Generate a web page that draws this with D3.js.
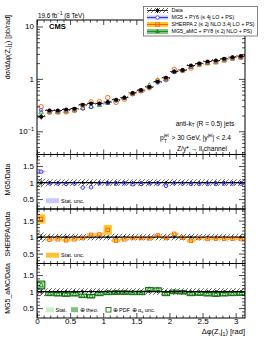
<!DOCTYPE html>
<html>
<head>
<meta charset="utf-8">
<script src="https://cdn.jsdelivr.net/npm/d3@7"></script>
<style>
  body { margin: 0; background: #fff; }
  svg { display: block; font-family: "Liberation Sans", Arial, sans-serif; }
  .tick line { stroke: #000; stroke-width: 0.7; }
</style>
</head>
<body>
<svg width="266" height="344"></svg>
<script>
// ---- values ----
var nBins = 25;
var dataXsec   = [0.19, 0.25, 0.25, 0.26, 0.27, 0.32, 0.34, 0.34, 0.36, 0.40, 0.44, 0.54, 0.61,
                  0.70, 0.88, 1.05, 1.38, 1.47, 1.80, 1.97, 2.15, 2.25, 2.42, 2.60, 2.72];
var dataStat   = [0.06, 0.03, 0.03, 0.03, 0.03, 0.03, 0.03, 0.03, 0.03, 0.03, 0.03, 0.03, 0.03,
                  0.03, 0.03, 0.03, 0.03, 0.03, 0.03, 0.03, 0.03, 0.03, 0.03, 0.03, 0.03];
var dataSyst   = [0.14, 0.10, 0.10, 0.10, 0.10, 0.10, 0.10, 0.10, 0.10, 0.10, 0.10, 0.10, 0.10,
                  0.10, 0.10, 0.10, 0.10, 0.10, 0.10, 0.10, 0.10, 0.10, 0.10, 0.10, 0.10];
var mg5Ratio   = [1.33, 0.98, 0.97, 0.96, 0.97, 0.85, 0.86, 0.98, 0.97, 0.97, 0.98, 0.95, 0.96,
                  0.98, 0.97, 0.90, 0.98, 0.97, 0.96, 0.96, 0.96, 0.96, 0.97, 0.97, 0.97];
var mg5Stat    = [0.03, 0.01, 0.01, 0.01, 0.01, 0.01, 0.01, 0.01, 0.01, 0.01, 0.01, 0.01, 0.01,
                  0.01, 0.01, 0.01, 0.01, 0.01, 0.01, 0.01, 0.01, 0.01, 0.01, 0.01, 0.01];
var sherpaRatio = [1.55, 0.92, 0.93, 0.90, 0.93, 0.97, 1.07, 1.08, 1.22, 0.89, 0.93, 0.97, 0.97,
                   0.96, 1.05, 0.97, 1.10, 0.98, 0.89, 0.97, 0.94, 0.95, 0.95, 0.95, 0.94];
var sherpaStat  = [0.14, 0.03, 0.03, 0.04, 0.03, 0.03, 0.04, 0.04, 0.15, 0.05, 0.03, 0.03, 0.03,
                   0.03, 0.03, 0.03, 0.03, 0.03, 0.05, 0.03, 0.03, 0.03, 0.03, 0.03, 0.03];
var amcRatio   = [1.20, 0.93, 0.92, 0.91, 0.92, 0.87, 0.86, 0.93, 0.96, 0.97, 0.97, 0.96, 0.96,
                  1.07, 1.06, 0.93, 0.99, 0.98, 0.93, 0.94, 0.92, 0.91, 0.92, 0.93, 0.94];
var amcStat    = [0.05, 0.02, 0.02, 0.02, 0.02, 0.02, 0.02, 0.02, 0.02, 0.02, 0.02, 0.02, 0.02,
                  0.02, 0.02, 0.02, 0.02, 0.02, 0.02, 0.02, 0.02, 0.02, 0.02, 0.02, 0.02];
var amcTheo    = [0.11, 0.05, 0.05, 0.05, 0.05, 0.05, 0.05, 0.05, 0.05, 0.05, 0.05, 0.05, 0.05,
                  0.05, 0.05, 0.05, 0.05, 0.05, 0.05, 0.05, 0.05, 0.05, 0.05, 0.05, 0.05];
var amcPdf     = [0.12, 0.055, 0.055, 0.055, 0.055, 0.055, 0.055, 0.055, 0.055, 0.055, 0.055, 0.055, 0.055,
                  0.055, 0.055, 0.055, 0.055, 0.055, 0.055, 0.055, 0.055, 0.055, 0.055, 0.055, 0.055];

var xTicks = [0, 0.5, 1, 1.5, 2, 2.5, 3];
var xTickLabels = ["0", "0.5", "1", "1.5", "2", "2.5", "3"];
var ratioTicks = [0.5, 1, 1.5];
var ratioTickLabels = ["0.5", "1", "1.5"];
var ratioTitles = ["MG5/Data", "SHERPA/Data", "MG5_aMC/Data"];
var legendLabels = ["Data", "MG5 + PY6 (\u2264 4j LO + PS)", "SHERPA 2 (\u2264 2j NLO 3,4j LO + PS)",
                    "MG5_aMC + PY8 (\u2264 2j NLO + PS)"];

// ---- layout ----
var left = 37, right = 245,
    mainTop = 20, mainBot = 154.5,
    ratioH = 54.5,
    ratioTops = [154.5, 209, 263.5];

var cBlue = "#3030ff", cBlueBand = "#c8c8ff",
    cOrange = "#ff5a00", cOrangeBand = "#ffc435",
    cGreen = "#1e8c1e", cGreenDark = "#006400", cGreenStat = "#c6f2c6", cGreenTheo = "#7cc47c";

var svg = d3.select("svg");
var defs = svg.append("defs");

defs.append("pattern")
    .attr("id", "hatch")
    .attr("patternUnits", "userSpaceOnUse")
    .attr("width", 4).attr("height", 4)
  .append("path")
    .attr("d", "M-1,1 l2,-2 M0,4 l4,-4 M3,5 l2,-2")
    .attr("stroke", "#000").attr("stroke-width", 0.6);

var x = d3.scaleLinear().domain([0, Math.PI]).range([left, right]);
var binW = Math.PI / nBins;
var bins = d3.range(nBins).map(function(i) { return {lo: i * binW, hi: (i + 1) * binW, c: (i + 0.5) * binW, i: i}; });

var yMain = d3.scaleLog().domain([0.036, 13.3]).range([mainBot, mainTop]);

function clip(id, y0, y1) {
  defs.append("clipPath").attr("id", id)
    .append("rect").attr("x", left).attr("y", y0).attr("width", right - left).attr("height", y1 - y0);
  return "url(#" + id + ")";
}

function xAxes(g, y0, y1, labels) {
  var minor = d3.range(0, 3.15, 0.1).filter(function(v) { return Math.abs(v * 2 - Math.round(v * 2)) > 1e-6; });
  g.append("g").attr("transform", "translate(0," + y1 + ")")
    .call(d3.axisBottom(x).tickValues(xTicks).tickSize(-5).tickPadding(0)
      .tickFormat(function(d, i) { return labels ? xTickLabels[i] : ""; }))
    .call(function(a) { a.select(".domain").remove(); a.selectAll("text").attr("font-size", 8).attr("dy", "0.72em"); });
  g.append("g").attr("transform", "translate(0," + y1 + ")")
    .call(d3.axisBottom(x).tickValues(minor).tickSize(-2.5).tickFormat(""))
    .call(function(a) { a.select(".domain").remove(); });
  g.append("g").attr("transform", "translate(0," + y0 + ")")
    .call(d3.axisTop(x).tickValues(xTicks).tickSize(-5).tickFormat(""))
    .call(function(a) { a.select(".domain").remove(); });
  g.append("g").attr("transform", "translate(0," + y0 + ")")
    .call(d3.axisTop(x).tickValues(minor).tickSize(-2.5).tickFormat(""))
    .call(function(a) { a.select(".domain").remove(); });
}

// ================= main panel =================
var gMain = svg.append("g");
var mainClip = clip("cmain", mainTop, mainBot);
var gMarks = gMain.append("g").attr("clip-path", mainClip);

// data syst hatch
gMarks.selectAll(".dsys").data(bins).enter().append("rect")
  .attr("x", function(d) { return x(d.lo); })
  .attr("width", function(d) { return x(d.hi) - x(d.lo); })
  .attr("y", function(d) { return yMain(dataXsec[d.i] * (1 + dataSyst[d.i] * 0.6)); })
  .attr("height", function(d) { return yMain(dataXsec[d.i] * (1 - dataSyst[d.i] * 0.6)) - yMain(dataXsec[d.i] * (1 + dataSyst[d.i] * 0.6)); })
  .attr("fill", "url(#hatch)");

// predictions (prediction = ratio x data)
gMarks.selectAll(".amcm").data(bins).enter().append("path")
  .attr("d", d3.symbol().type(d3.symbolTriangle).size(9))
  .attr("transform", function(d) { return "translate(" + x(d.c) + "," + yMain(dataXsec[d.i] * amcRatio[d.i]) + ")"; })
  .attr("fill", "none").attr("stroke", cGreen).attr("stroke-width", 0.8);
gMarks.selectAll(".mg5m").data(bins).enter().append("circle")
  .attr("cx", function(d) { return x(d.c); })
  .attr("cy", function(d) { return yMain(dataXsec[d.i] * mg5Ratio[d.i]); })
  .attr("r", 1.8).attr("fill", "none").attr("stroke", cBlue).attr("stroke-width", 0.8);
gMarks.selectAll(".shm").data(bins).enter().append("circle")
  .attr("cx", function(d) { return x(d.c); })
  .attr("cy", function(d) { return yMain(dataXsec[d.i] * sherpaRatio[d.i]); })
  .attr("r", 2.2).attr("fill", "none").attr("stroke", cOrange).attr("stroke-width", 0.9);

// data points
gMarks.selectAll(".dx").data(bins).enter().append("line")
  .attr("x1", function(d) { return x(d.lo); }).attr("x2", function(d) { return x(d.hi); })
  .attr("y1", function(d) { return yMain(dataXsec[d.i]); }).attr("y2", function(d) { return yMain(dataXsec[d.i]); })
  .attr("stroke", "#000").attr("stroke-width", 0.8);
gMarks.selectAll(".dy").data(bins).enter().append("line")
  .attr("x1", function(d) { return x(d.c); }).attr("x2", function(d) { return x(d.c); })
  .attr("y1", function(d) { return yMain(dataXsec[d.i] * (1 + dataStat[d.i] * 2)); })
  .attr("y2", function(d) { return yMain(dataXsec[d.i] * (1 - dataStat[d.i] * 2)); })
  .attr("stroke", "#000").attr("stroke-width", 0.8);
gMarks.selectAll(".dp").data(bins).enter().append("circle")
  .attr("cx", function(d) { return x(d.c); })
  .attr("cy", function(d) { return yMain(dataXsec[d.i]); })
  .attr("r", 2).attr("fill", "#000");

// main y axis (log)
var logMajor = [0.1, 1, 10];
var logMinor = [];
[0.01, 0.1, 1].forEach(function(p) { d3.range(2, 10).forEach(function(k) { var v = p * k; if (v > 0.036 && v < 13.3) logMinor.push(v); }); });

gMain.append("g").attr("transform", "translate(" + left + ",0)")
  .call(d3.axisLeft(yMain).tickValues(logMajor).tickSize(-6).tickPadding(3).tickFormat(""))
  .call(function(a) { a.select(".domain").remove(); });
gMain.append("g").attr("transform", "translate(" + left + ",0)")
  .call(d3.axisLeft(yMain).tickValues(logMinor).tickSize(-3).tickFormat(""))
  .call(function(a) { a.select(".domain").remove(); });
gMain.append("g").attr("transform", "translate(" + right + ",0)")
  .call(d3.axisRight(yMain).tickValues(logMajor).tickSize(-6).tickFormat(""))
  .call(function(a) { a.select(".domain").remove(); });
gMain.append("g").attr("transform", "translate(" + right + ",0)")
  .call(d3.axisRight(yMain).tickValues(logMinor).tickSize(-3).tickFormat(""))
  .call(function(a) { a.select(".domain").remove(); });

// log labels with superscripts
var logLab = gMain.append("g").attr("font-size", 8).attr("text-anchor", "end");
logLab.append("text").attr("x", left - 3).attr("y", yMain(10)).attr("dy", "0.35em").text("10");
logLab.append("text").attr("x", left - 3).attr("y", yMain(1)).attr("dy", "0.35em").text("1");
var tm1 = logLab.append("text").attr("x", left - 3).attr("y", yMain(0.1)).attr("dy", "0.35em");
tm1.append("tspan").text("10");
tm1.append("tspan").attr("dy", "-3.5").attr("font-size", 5.5).text("\u22121");

xAxes(gMain, mainTop, mainBot, false);

gMain.append("rect").attr("x", left).attr("y", mainTop).attr("width", right - left).attr("height", mainBot - mainTop)
  .attr("fill", "none").attr("stroke", "#000").attr("stroke-width", 1);

// y title
var yt = gMain.append("text").attr("transform", "translate(10,15) rotate(-90)")
  .attr("text-anchor", "end").attr("font-size", 7);
yt.append("tspan").text("d\u03c3/d\u0394\u03c6(Z,j");
yt.append("tspan").attr("dy", 1.5).attr("font-size", 5).text("1");
yt.append("tspan").attr("dy", -1.5).text(")  [pb/rad]");

// lumi + CMS
var lumi = svg.append("text").attr("x", 38).attr("y", 17.5).attr("font-size", 6.3);
lumi.append("tspan").text("19.6 fb");
lumi.append("tspan").attr("dy", -2.5).attr("font-size", 4.5).text("\u22121");
lumi.append("tspan").attr("dy", 2.5).text(" (8 TeV)");
svg.append("text").attr("x", 49).attr("y", 29).attr("font-size", 7.5).attr("font-weight", "bold").text("CMS");

// info text
var info = svg.append("g").attr("font-size", 6.6);
var t1 = info.append("text").attr("x", 205).attr("y", 125.5).attr("text-anchor", "middle");
t1.append("tspan").text("anti-k");
t1.append("tspan").attr("dy", 1.5).attr("font-size", 4.6).text("T");
t1.append("tspan").attr("dy", -1.5).text(" (R = 0.5) jets");
// second line: p_T^jet built from separate pieces so sub/superscripts stack
info.append("text").attr("x", 160).attr("y", 140).text("p");
info.append("text").attr("x", 164).attr("y", 136.5).attr("font-size", 4.6).text("jet");
info.append("text").attr("x", 164).attr("y", 142.5).attr("font-size", 4.6).text("T");
var t2 = info.append("text").attr("x", 171.5).attr("y", 140);
t2.append("tspan").text("> 30 GeV, |y");
t2.append("tspan").attr("dy", -3).attr("font-size", 4.6).text("jet");
t2.append("tspan").attr("dy", 3).text("| < 2.4");
info.append("text").attr("x", 202).attr("y", 150.5).attr("text-anchor", "middle").text("Z/\u03b3* \u2192 ll channel");

// legend
var lg = svg.append("g");
lg.append("rect").attr("x", 143.5).attr("y", 6.5).attr("width", 114).attr("height", 29.5)
  .attr("fill", "#fff").attr("stroke", "#666").attr("stroke-width", 0.8);
var rowY = [10.5, 17.5, 24.5, 31.5];
var sx0 = 147, sx1 = 168, sxc = 157.5;
// Data
lg.append("rect").attr("x", sx0).attr("y", rowY[0] - 2.5).attr("width", sx1 - sx0).attr("height", 5).attr("fill", "url(#hatch)");
lg.append("line").attr("x1", sx0).attr("x2", sx1).attr("y1", rowY[0]).attr("y2", rowY[0]).attr("stroke", "#000").attr("stroke-width", 0.8);
lg.append("line").attr("x1", sxc).attr("x2", sxc).attr("y1", rowY[0] - 2.5).attr("y2", rowY[0] + 2.5).attr("stroke", "#000").attr("stroke-width", 0.8);
lg.append("circle").attr("cx", sxc).attr("cy", rowY[0]).attr("r", 1.8).attr("fill", "#000");
// MG5
lg.append("rect").attr("x", sx0).attr("y", rowY[1] - 2).attr("width", sx1 - sx0).attr("height", 4).attr("fill", cBlueBand);
lg.append("line").attr("x1", sx0).attr("x2", sx1).attr("y1", rowY[1]).attr("y2", rowY[1]).attr("stroke", cBlue).attr("stroke-width", 1);
lg.append("circle").attr("cx", sxc).attr("cy", rowY[1]).attr("r", 1.8).attr("fill", "#fff").attr("stroke", cBlue).attr("stroke-width", 0.8);
// SHERPA
lg.append("rect").attr("x", sx0).attr("y", rowY[2] - 2.5).attr("width", sx1 - sx0).attr("height", 5).attr("fill", cOrangeBand);
lg.append("line").attr("x1", sx0).attr("x2", sx1).attr("y1", rowY[2]).attr("y2", rowY[2]).attr("stroke", cOrange).attr("stroke-width", 1);
lg.append("rect").attr("x", sxc - 1.8).attr("y", rowY[2] - 1.8).attr("width", 3.6).attr("height", 3.6)
  .attr("fill", "none").attr("stroke", cOrange).attr("stroke-width", 0.8);
// aMC
lg.append("rect").attr("x", sx0).attr("y", rowY[3] - 2.5).attr("width", sx1 - sx0).attr("height", 5).attr("fill", cGreenTheo);
lg.append("line").attr("x1", sx0).attr("x2", sx1).attr("y1", rowY[3]).attr("y2", rowY[3]).attr("stroke", cGreen).attr("stroke-width", 1);
lg.append("path").attr("d", d3.symbol().type(d3.symbolTriangle).size(10)).attr("transform", "translate(" + sxc + "," + rowY[3] + ")")
  .attr("fill", cGreen);
lg.selectAll(".lt").data(legendLabels).enter().append("text")
  .attr("x", 171.5).attr("y", function(d, i) { return rowY[i]; }).attr("dy", "0.35em")
  .attr("font-size", 5.3).text(function(d) { return d; });

// ================= ratio panels =================
var ratioSets = [
  {r: mg5Ratio, bands: [{e: mg5Stat, fill: cBlueBand}], col: cBlue, mark: "circle"},
  {r: sherpaRatio, bands: [{e: sherpaStat, fill: cOrangeBand}], col: cOrange, mark: "square"},
  {r: amcRatio, bands: [{e: amcTheo, fill: cGreenTheo}, {e: amcStat, fill: cGreenStat}, {e: amcPdf, fill: "none", stroke: cGreenDark}], col: cGreenDark, mark: "triangle"}
];

ratioTops.forEach(function(top, p) {
  var bot = top + ratioH;
  var yR = d3.scaleLinear().domain([0.2, 1.85]).range([bot, top]);
  var set = ratioSets[p];
  var g = svg.append("g");
  var gm = g.append("g").attr("clip-path", clip("cr" + p, top, bot));

  // data hatch around 1
  gm.selectAll(".h").data(bins).enter().append("rect")
    .attr("x", function(d) { return x(d.lo); })
    .attr("width", function(d) { return x(d.hi) - x(d.lo); })
    .attr("y", function(d) { return yR(1 + dataSyst[d.i]); })
    .attr("height", function(d) { return yR(1 - dataSyst[d.i]) - yR(1 + dataSyst[d.i]); })
    .attr("fill", "url(#hatch)");

  // prediction bands
  set.bands.forEach(function(b) {
    gm.selectAll(null).data(bins).enter().append("rect")
      .attr("x", function(d) { return x(d.lo) + (b.stroke ? 0.5 : 0); })
      .attr("width", function(d) { return x(d.hi) - x(d.lo) - (b.stroke ? 1 : 0); })
      .attr("y", function(d) { return yR(set.r[d.i] + b.e[d.i]); })
      .attr("height", function(d) { return yR(set.r[d.i] - b.e[d.i]) - yR(set.r[d.i] + b.e[d.i]); })
      .attr("fill", b.fill).attr("stroke", b.stroke || "none").attr("stroke-width", 0.9);
  });

  // line at 1
  gm.append("line").attr("x1", left).attr("x2", right).attr("y1", yR(1)).attr("y2", yR(1))
    .attr("stroke", "#000").attr("stroke-width", 1.1);

  // data at 1
  gm.selectAll(".de").data(bins).enter().append("line")
    .attr("x1", function(d) { return x(d.c); }).attr("x2", function(d) { return x(d.c); })
    .attr("y1", function(d) { return yR(1 + dataStat[d.i] * 1.5); })
    .attr("y2", function(d) { return yR(1 - dataStat[d.i] * 1.5); })
    .attr("stroke", "#000").attr("stroke-width", 0.8);
  gm.selectAll(".dd").data(bins).enter().append("circle")
    .attr("cx", function(d) { return x(d.c); }).attr("cy", yR(1)).attr("r", 1.1).attr("fill", "#000");

  // prediction markers
  if (set.mark === "circle") {
    gm.selectAll(".m").data(bins).enter().append("circle")
      .attr("cx", function(d) { return x(d.c); }).attr("cy", function(d) { return yR(set.r[d.i]); })
      .attr("r", 1.8).attr("fill", "none").attr("stroke", set.col).attr("stroke-width", 0.9);
  } else if (set.mark === "square") {
    gm.selectAll(".m").data(bins).enter().append("rect")
      .attr("x", function(d) { return x(d.c) - 1.7; }).attr("y", function(d) { return yR(set.r[d.i]) - 1.7; })
      .attr("width", 3.4).attr("height", 3.4)
      .attr("fill", "none").attr("stroke", set.col).attr("stroke-width", 0.8);
  } else {
    gm.selectAll(".m").data(bins).enter().append("path")
      .attr("d", d3.symbol().type(d3.symbolTriangle).size(8))
      .attr("transform", function(d) { return "translate(" + x(d.c) + "," + yR(set.r[d.i]) + ")"; })
      .attr("fill", "none").attr("stroke", set.col).attr("stroke-width", 0.7);
  }

  // y axes
  var rMinor = d3.range(0.3, 1.85, 0.1).filter(function(v) { return Math.abs(v * 2 - Math.round(v * 2)) > 1e-6; });
  g.append("g").attr("transform", "translate(" + left + ",0)")
    .call(d3.axisLeft(yR).tickValues(ratioTicks).tickSize(-6).tickPadding(3)
      .tickFormat(function(d, i) { return ratioTickLabels[i]; }))
    .call(function(a) { a.select(".domain").remove(); a.selectAll("text").attr("font-size", 8); });
  g.append("g").attr("transform", "translate(" + left + ",0)")
    .call(d3.axisLeft(yR).tickValues(rMinor).tickSize(-3).tickFormat(""))
    .call(function(a) { a.select(".domain").remove(); });
  g.append("g").attr("transform", "translate(" + right + ",0)")
    .call(d3.axisRight(yR).tickValues(ratioTicks).tickSize(-6).tickFormat(""))
    .call(function(a) { a.select(".domain").remove(); });
  g.append("g").attr("transform", "translate(" + right + ",0)")
    .call(d3.axisRight(yR).tickValues(rMinor).tickSize(-3).tickFormat(""))
    .call(function(a) { a.select(".domain").remove(); });

  xAxes(g, top, bot, p === 2);

  g.append("rect").attr("x", left).attr("y", top).attr("width", right - left).attr("height", ratioH)
    .attr("fill", "none").attr("stroke", "#000").attr("stroke-width", 1);

  g.append("text").attr("transform", "translate(10," + (top + 25) + ") rotate(-90)")
    .attr("text-anchor", "middle").attr("font-size", 7).text(ratioTitles[p]);

  // in-panel legend
  var ly = yR(0.45);
  if (p < 2) {
    g.append("rect").attr("x", 46).attr("y", ly - 2.5).attr("width", 13).attr("height", 5).attr("fill", set.bands[0].fill);
    g.append("text").attr("x", 61).attr("y", ly).attr("dy", "0.35em").attr("font-size", 5.5).text("Stat. unc.");
  } else {
    g.append("rect").attr("x", 46).attr("y", ly - 2.5).attr("width", 8).attr("height", 5).attr("fill", cGreenStat);
    g.append("text").attr("x", 55.5).attr("y", ly).attr("dy", "0.35em").attr("font-size", 5.5).text("Stat.");
    g.append("rect").attr("x", 71).attr("y", ly - 2.5).attr("width", 7).attr("height", 5).attr("fill", cGreenTheo);
    g.append("text").attr("x", 79.5).attr("y", ly).attr("dy", "0.35em").attr("font-size", 5.5).text("\u2295 theo.");
    g.append("rect").attr("x", 106).attr("y", ly - 2.3).attr("width", 5).attr("height", 4.6)
      .attr("fill", "none").attr("stroke", cGreenDark).attr("stroke-width", 0.8);
    var pt = g.append("text").attr("x", 112.5).attr("y", ly).attr("dy", "0.35em").attr("font-size", 5.5);
    pt.append("tspan").text("\u2295 PDF \u2295 \u03b1");
    pt.append("tspan").attr("dy", 1.3).attr("font-size", 4).text("s");
    pt.append("tspan").attr("dy", -1.3).text(" unc.");
  }
});

// x title
var xt = svg.append("text").attr("x", right).attr("y", 334).attr("text-anchor", "end").attr("font-size", 7.5);
xt.append("tspan").text("\u0394\u03c6(Z,j");
xt.append("tspan").attr("dy", 2).attr("font-size", 5.3).text("1");
xt.append("tspan").attr("dy", -2).text(")  [rad]");
</script>
</body>
</html>
